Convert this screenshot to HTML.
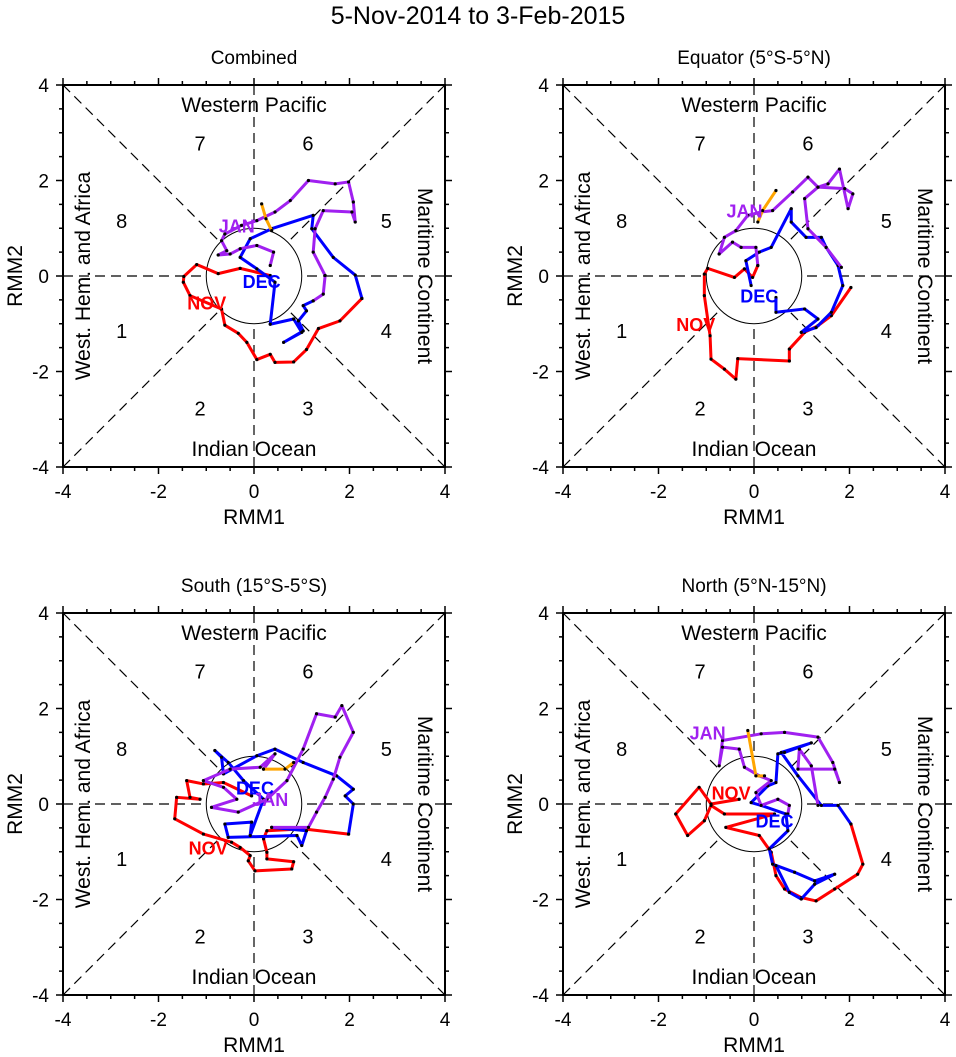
<!DOCTYPE html>
<html><head><meta charset="utf-8"><style>
body{margin:0;background:#fff;}
svg{display:block;font-family:"Liberation Sans",sans-serif;}
</style></head><body>
<svg id="c" width="956" height="1057" viewBox="0 0 956 1057">
<text x="478" y="24" font-size="25" text-anchor="middle">5-Nov-2014 to 3-Feb-2015</text>
</svg>
<script>
// Panel titles
const panelTitles = ["Combined", "Equator (5°S-5°N)", "South (15°S-5°S)", "North (5°N-15°N)"];
const tickValues = [-4, -2, 0, 2, 4];
const phaseNumbers = ["1","2","3","4","5","6","7","8"];
// Panel 1 (Combined)
const p1RedX = [0.34,-0.29,-0.75,-1.20,-1.47,-1.48,-1.34,-0.68,-0.61,-0.33,-0.15,0.06,0.34,0.44,0.83,1.10,1.35,1.80,2.26];
const p1RedY = [0.01,0.16,0.05,0.24,-0.01,-0.13,-0.41,-0.69,-1.03,-1.20,-1.39,-1.75,-1.64,-1.81,-1.80,-1.54,-1.10,-0.94,-0.47];
const p1BlueX = [2.26,2.12,1.66,1.21,1.24,0.37,-0.08,-0.29,0.06,0.44,0.34,0.83,1.00,0.62,1.03,0.93,1.10,1.03,1.24];
const p1BlueY = [-0.47,0.02,0.39,0.99,1.27,0.99,0.78,0.39,0.15,-0.13,-1.01,-0.90,-1.18,-1.39,-1.15,-0.94,-0.73,-0.62,-0.52];
const p1PurpleX = [1.24,1.45,1.49,1.24,1.28,1.45,2.05,2.12,2.08,1.98,1.70,1.14,0.76,0.44,0.06,-0.26,-0.61,-0.68,-0.57,-0.75,-0.50,-0.29,0.06,0.41,0.34];
const p1PurpleY = [-0.52,-0.38,0.01,0.50,0.99,1.37,1.34,1.13,1.55,1.97,1.93,2.00,1.58,1.34,1.16,1.06,0.88,0.74,0.53,0.44,0.46,0.57,0.64,0.50,0.22];
const p1OrangeX = [0.37,0.25,0.16];
const p1OrangeY = [0.95,1.20,1.51];
// Panel 2 (Equator)
const p2RedX = [0.08,-0.03,-0.20,-0.41,-0.97,-1.04,-1.04,-0.92,-0.90,-0.62,-0.38,-0.34,0.74,0.74,1.06,1.34,1.62,2.03];
const p2RedY = [0.22,-0.03,0.15,-0.03,0.16,0.04,-0.41,-1.25,-1.74,-1.95,-2.16,-1.73,-1.78,-1.53,-1.18,-1.04,-0.83,-0.24];
const p2BlueX = [-0.06,-0.17,0.11,0.36,0.78,0.78,1.09,1.41,1.51,1.76,1.86,1.62,1.30,0.99,1.34,1.06,0.46,0.46];
const p2BlueY = [-0.20,0.32,0.50,0.60,1.41,1.13,0.81,0.81,0.60,0.22,-0.20,-0.76,-1.08,-1.18,-0.90,-0.69,-0.76,-0.45];
const p2PurpleX = [1.83,1.51,1.13,1.06,1.34,1.55,1.79,1.97,2.07,1.90,1.34,1.13,0.81,0.39,0.15,-0.13,-0.38,-0.62,-0.73,-0.45,-0.27,0.04,0.08];
const p2PurpleY = [0.18,0.60,0.99,1.62,1.86,1.93,2.24,1.41,1.72,1.83,1.86,2.07,1.76,1.37,1.34,1.27,0.95,0.81,0.46,0.71,0.60,0.60,0.22];
const p2OrangeX = [0.08,0.18,0.46];
const p2OrangeY = [1.13,1.37,1.79];
// Panel 3 (South)
const p3RedX = [-0.05,-0.64,-1.06,-1.41,-1.34,-1.13,-1.62,-1.66,-1.06,-0.47,-0.29,-0.08,-0.12,0.02,0.79,0.83,0.27,0.27,0.20,0.27,1.03,1.98];
const p3RedY = [0.17,0.45,0.42,0.49,0.14,0.10,0.14,-0.31,-0.63,-0.80,-0.91,-1.08,-1.19,-1.40,-1.36,-1.21,-1.15,-1.01,-0.73,-0.56,-0.52,-0.63];
const p3BlueX = [1.98,2.08,1.91,2.08,1.73,1.03,0.44,0.06,-0.64,-0.68,-0.82,-0.54,-0.22,0.20,-0.08,-0.05,-0.61,-0.54,0.90,1.00,1.10,0.37];
const p3BlueY = [-0.63,0.00,0.17,0.31,0.59,0.87,1.15,1.01,0.63,0.98,1.12,0.87,0.49,0.10,-0.66,-0.38,-0.42,-0.70,-0.66,-0.87,-0.56,-0.49];
const p3PurpleX = [0.37,1.14,1.31,1.49,1.66,1.80,2.08,1.84,1.70,1.31,1.03,0.69,0.27,-0.33,-0.89,-0.36,-0.64,-1.06,-0.50,0.13,0.44,0.20];
const p3PurpleY = [-0.49,-0.49,-0.17,0.14,0.52,0.98,1.50,2.06,1.82,1.89,1.15,0.49,0.10,-0.17,-0.07,0.10,0.35,0.49,0.73,0.77,1.05,0.73];
const p3OrangeX = [0.20,0.65,0.83];
const p3OrangeY = [0.73,0.73,0.87];
// Panel 4 (North)
const p4RedX = [-0.31,-0.90,-1.15,-1.64,-1.39,-1.04,-0.90,-0.62,0.43,-0.59,0.11,0.36,0.46,0.64,0.99,1.30,1.69,2.17,2.28,2.03];
const p4RedY = [0.10,0.00,0.35,-0.21,-0.66,-0.35,-0.03,-0.21,-0.21,-0.49,-0.66,-1.01,-1.50,-1.78,-1.96,-2.03,-1.78,-1.47,-1.26,-0.42];
const p4BlueX = [2.03,1.76,1.41,0.92,0.57,1.20,0.64,0.50,0.46,0.29,-0.06,0.15,0.67,0.71,0.32,0.39,0.85,1.27,1.69,1.27,0.99,0.74,0.46];
const p4BlueY = [-0.42,-0.03,-0.03,0.59,1.08,1.28,1.08,1.05,0.45,0.38,0.03,-0.03,-0.21,-0.56,-0.94,-1.26,-1.43,-1.61,-1.47,-1.68,-1.99,-1.85,-1.29];
const p4PurpleX = [0.71,0.74,0.50,0.15,0.04,0.36,0.11,-0.20,-0.31,-0.66,-0.73,-0.66,0.15,0.64,1.34,1.65,1.79,1.69,0.92,0.95,1.20,1.34];
const p4PurpleY = [-0.21,-0.03,0.10,-0.03,0.24,0.49,0.59,0.77,1.15,1.19,0.80,1.33,1.47,1.50,1.40,0.87,0.45,0.73,0.73,1.15,0.80,-0.03];
const p4OrangeX = [-0.13,0.04,0.22];
const p4OrangeY = [1.54,0.59,0.59];
// Month label positions
const monthNames = ["NOV","DEC","JAN"];
const monthX = [[-0.99,0.16,-0.36],[-1.22,0.11,-0.20],[-0.96,0.02,0.34],[-0.48,0.43,-0.97]];
const monthY = [[-0.55,-0.10,1.06],[-1.01,-0.41,1.37],[-0.91,0.35,0.10],[0.24,-0.35,1.50]];

const panelData = [
 [[p1RedX,p1RedY],[p1BlueX,p1BlueY],[p1PurpleX,p1PurpleY],[p1OrangeX,p1OrangeY]],
 [[p2RedX,p2RedY],[p2BlueX,p2BlueY],[p2PurpleX,p2PurpleY],[p2OrangeX,p2OrangeY]],
 [[p3RedX,p3RedY],[p3BlueX,p3BlueY],[p3PurpleX,p3PurpleY],[p3OrangeX,p3OrangeY]],
 [[p4RedX,p4RedY],[p4BlueX,p4BlueY],[p4PurpleX,p4PurpleY],[p4OrangeX,p4OrangeY]]
];
const seriesColors = ["#ff0000","#0000ff","#a020f0","#ffa500"];
const seriesNames = ["november","december","january","february"];
const monthColors = ["#ff0000","#0000ff","#a020f0"];

const NS = "http://www.w3.org/2000/svg";
const svg = document.getElementById("c");
function mk(tag, attrs, parent) {
  const e = document.createElementNS(NS, tag);
  for (const k in attrs) e.setAttribute(k, attrs[k]);
  parent.appendChild(e);
  return e;
}
const origins = [[63,85],[563,85],[63,613],[563,613]];
const S = 382/8;

origins.forEach((o, pi) => {
  const L = o[0], T = o[1];
  const xs = v => L + (v + 4) * S;
  const ys = v => T + (4 - v) * S;
  const cx = xs(0), cy = ys(0);
  const g = mk("g", {}, svg);
  
  

  const t = mk("text", {x: cx, y: T - 21, "font-size": 19, "text-anchor": "middle"}, g);
  t.textContent = panelTitles[pi];
  
  

  const dash = {stroke: "#000", "stroke-width": 1.2, "stroke-dasharray": "10,6", fill: "none"};
  const r = S, d = r / Math.SQRT2;
  [[xs(-4), ys(4), cx - d, cy - d],[xs(4), ys(4), cx + d, cy - d],[xs(-4), ys(-4), cx - d, cy + d],[xs(4), ys(-4), cx + d, cy + d],
   [xs(-4), cy, cx - r, cy],[xs(4), cy, cx + r, cy],[cx, ys(4), cx, cy - r],[cx, ys(-4), cx, cy + r]].forEach(q => {
    const ln = mk("line", Object.assign({x1: q[0], y1: q[1], x2: q[2], y2: q[3]}, dash), g);
    
    
  });
  const circ = mk("circle", {cx: cx, cy: cy, r: r, fill: "none", stroke: "#000", "stroke-width": 1}, g);
  
  

  const fr = mk("rect", {x: L, y: T, width: 8 * S, height: 8 * S, fill: "none", stroke: "#000", "stroke-width": 2}, g);
  
  
  for (let v = -4; v <= 4; v += 0.5) {
    const maj = Number.isInteger(v) && v % 2 === 0;
    const len = maj ? 7 : 4;
    mk("line", {x1: xs(v), y1: ys(-4), x2: xs(v), y2: ys(-4) + len, stroke: "#000", "stroke-width": 1.5}, g);
    mk("line", {x1: xs(v), y1: ys(4), x2: xs(v), y2: ys(4) - len, stroke: "#000", "stroke-width": 1.5}, g);
    mk("line", {x1: xs(-4), y1: ys(v), x2: xs(-4) - len, y2: ys(v), stroke: "#000", "stroke-width": 1.5}, g);
    mk("line", {x1: xs(4), y1: ys(v), x2: xs(4) + len, y2: ys(v), stroke: "#000", "stroke-width": 1.5}, g);
  }
  tickValues.forEach(v => {
    const a = mk("text", {x: xs(v), y: ys(-4) + 31, "font-size": 19, "text-anchor": "middle"}, g);
    a.textContent = v;
    
    
    const b = mk("text", {x: xs(-4) - 14, y: ys(v) + 7, "font-size": 19, "text-anchor": "end"}, g);
    b.textContent = v;
    
    
  });
  const xl = mk("text", {x: cx, y: ys(-4) + 57, "font-size": 21, "text-anchor": "middle"}, g);
  xl.textContent = "RMM1";
  
  
  const yl = mk("text", {x: 0, y: 0, "font-size": 21, "text-anchor": "middle", transform: `translate(${L - 41},${cy}) rotate(-90)`}, g);
  yl.textContent = "RMM2";
  
  

  const wp = mk("text", {x: cx, y: ys(3.6) + 8, "font-size": 21, "text-anchor": "middle"}, g);
  wp.textContent = "Western Pacific";
  
  
  const io = mk("text", {x: cx, y: ys(-3.6) + 8, "font-size": 21, "text-anchor": "middle"}, g);
  io.textContent = "Indian Ocean";
  
  
  const wh = mk("text", {x: 0, y: 0, "font-size": 21, "text-anchor": "middle", transform: `translate(${xs(-3.6) + 8},${cy}) rotate(-90)`}, g);
  wh.textContent = "West. Hem. and Africa";
  
  
  const mc = mk("text", {x: 0, y: 0, "font-size": 21, "text-anchor": "middle", transform: `translate(${xs(3.6) - 8},${cy}) rotate(90)`}, g);
  mc.textContent = "Maritime Continent";
  
  

  const phX = [-2.77,-1.13,1.13,2.77,2.77,1.13,-1.13,-2.77];
  const phY = [-1.15,-2.77,-2.77,-1.15,1.15,2.77,2.77,1.15];
  phaseNumbers.forEach((p, i) => {
    const e = mk("text", {x: xs(phX[i]), y: ys(phY[i]) + 7, "font-size": 20, "text-anchor": "middle"}, g);
    e.textContent = p;
    
    
  });

  panelData[pi].forEach((ser, si) => {
    const X = ser[0], Y = ser[1];
    const pts = X.map((v, i) => xs(v) + "," + ys(Y[i])).join(" ");
    const pl = mk("polyline", {points: pts, fill: "none", stroke: seriesColors[si], "stroke-width": 3, "stroke-linejoin": "round"}, g);
    
    
    X.forEach((v, i) => {
      const dt = mk("circle", {cx: xs(v), cy: ys(Y[i]), r: 1.6, fill: "#000"}, g);
      
      
    });
  });
  monthNames.forEach((m, i) => {
    const e = mk("text", {x: xs(monthX[pi][i]), y: ys(monthY[pi][i]) + 7, "font-size": 18, "font-weight": "bold", fill: monthColors[i], "text-anchor": "middle"}, g);
    e.textContent = m;
    
    
  });
});
</script>
</body></html>
